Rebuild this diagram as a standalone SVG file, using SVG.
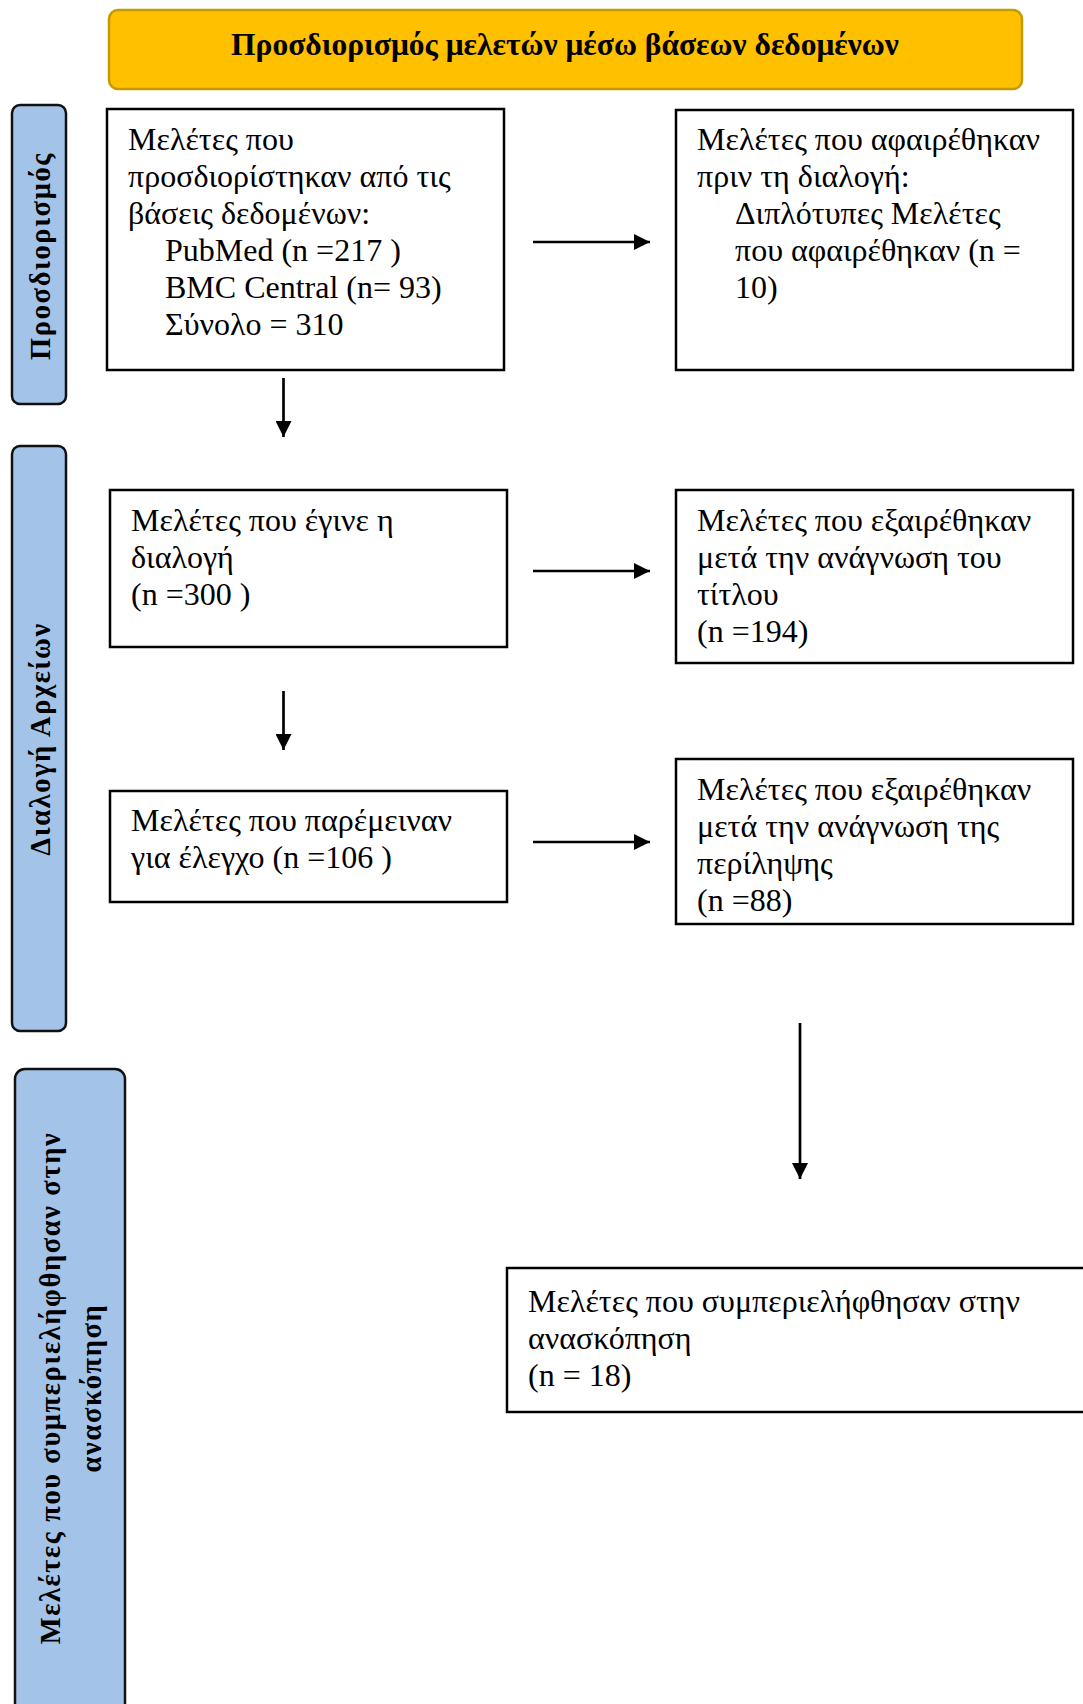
<svg xmlns="http://www.w3.org/2000/svg" width="1083" height="1704" viewBox="0 0 1083 1704">
<defs>
<marker id="ah" markerWidth="16" markerHeight="16" refX="16" refY="8" orient="auto" markerUnits="userSpaceOnUse" viewBox="0 0 16 16">
<path d="M0,0 L16,8 L0,16 z" fill="#000"/>
</marker>
<style>
.box{fill:#fff;stroke:#000;stroke-width:2.5}
.lane{fill:#A3C3E8;stroke:#111;stroke-width:2.5}
.t{font-family:"Liberation Serif","Times New Roman",serif;font-size:32px;fill:#000}
.lt{font-family:"Liberation Serif","Times New Roman",serif;font-size:28.5px;font-weight:bold;letter-spacing:1.6px;fill:#000}
.hd{font-family:"Liberation Serif","Times New Roman",serif;font-size:31.5px;font-weight:bold;fill:#000}
.c{stroke:#000;stroke-width:2.7;fill:none;marker-end:url(#ah)}
</style>
</defs>
<rect width="1083" height="1704" fill="#fff"/>
<g id="header">
<rect x="109" y="10" width="913" height="79" rx="9" fill="#FFC000" stroke="#C49A00" stroke-width="2.5"/>
<text class="hd" x="565" y="55" text-anchor="middle">Προσδιορισμός μελετών μέσω βάσεων δεδομένων</text>
</g>
<g id="lane1">
<rect class="lane" x="12" y="105" width="54" height="299" rx="8"/>
<text class="lt" transform="translate(50,256) rotate(-90)" text-anchor="middle">Προσδιορισμός</text>
</g>
<g id="lane2">
<rect class="lane" x="12" y="446" width="54" height="585" rx="8"/>
<text class="lt" transform="translate(50,739) rotate(-90)" text-anchor="middle">Διαλογή  Αρχείων</text>
</g>
<g id="lane3">
<rect class="lane" x="15" y="1069" width="110" height="660" rx="10"/>
<text class="lt" transform="translate(60,1388) rotate(-90)" text-anchor="middle">Μελέτες που συμπεριελήφθησαν στην</text>
<text class="lt" transform="translate(101,1388) rotate(-90)" text-anchor="middle">ανασκόπηση</text>
</g>
<g id="identified">
<rect class="box" x="107" y="109" width="397" height="261"/>
<text class="t"><tspan x="128" y="150">Μελέτες που</tspan><tspan x="128" y="187">προσδιορίστηκαν από τις</tspan><tspan x="128" y="224">βάσεις δεδομένων:</tspan><tspan x="165" y="261">PubMed (n =217 )</tspan><tspan x="165" y="298">BMC Central (n= 93)</tspan><tspan x="165" y="335">Σύνολο = 310</tspan></text>
</g>
<g id="removed">
<rect class="box" x="676" y="110" width="397" height="260"/>
<text class="t"><tspan x="697" y="150">Μελέτες που αφαιρέθηκαν</tspan><tspan x="697" y="187">πριν τη διαλογή:</tspan><tspan x="735" y="224">Διπλότυπες Μελέτες</tspan><tspan x="735" y="261">που αφαιρέθηκαν  (n =</tspan><tspan x="735" y="298">10)</tspan></text>
</g>
<g id="screened">
<rect class="box" x="110" y="490" width="397" height="157"/>
<text class="t"><tspan x="131" y="531">Μελέτες που έγινε η</tspan><tspan x="131" y="568">διαλογή</tspan><tspan x="131" y="605">(n =300 )</tspan></text>
</g>
<g id="excluded-title">
<rect class="box" x="676" y="490" width="397" height="173"/>
<text class="t"><tspan x="697" y="531">Μελέτες που εξαιρέθηκαν</tspan><tspan x="697" y="568">μετά την ανάγνωση του</tspan><tspan x="697" y="605">τίτλου</tspan><tspan x="697" y="642">(n =194)</tspan></text>
</g>
<g id="remaining">
<rect class="box" x="110" y="791" width="397" height="111"/>
<text class="t"><tspan x="131" y="831">Μελέτες που παρέμειναν</tspan><tspan x="131" y="868">για έλεγχο (n =106 )</tspan></text>
</g>
<g id="excluded-abstract">
<rect class="box" x="676" y="759" width="397" height="165"/>
<text class="t"><tspan x="697" y="800">Μελέτες που εξαιρέθηκαν</tspan><tspan x="697" y="837">μετά την ανάγνωση της</tspan><tspan x="697" y="874">περίληψης</tspan><tspan x="697" y="911">(n =88)</tspan></text>
</g>
<g id="included">
<rect class="box" x="507" y="1268" width="600" height="144"/>
<text class="t"><tspan x="528" y="1312">Μελέτες που συμπεριελήφθησαν στην</tspan><tspan x="528" y="1349">ανασκόπηση</tspan><tspan x="528" y="1386">(n = 18)</tspan></text>
</g>
<g id="connectors">
<line class="c" x1="533" y1="242" x2="650" y2="242"/>
<line class="c" x1="283.5" y1="378" x2="283.5" y2="437"/>
<line class="c" x1="533" y1="571" x2="650" y2="571"/>
<line class="c" x1="283.5" y1="691" x2="283.5" y2="750"/>
<line class="c" x1="533" y1="842" x2="650" y2="842"/>
<line class="c" x1="800" y1="1023" x2="800" y2="1179"/>
</g>
</svg>
